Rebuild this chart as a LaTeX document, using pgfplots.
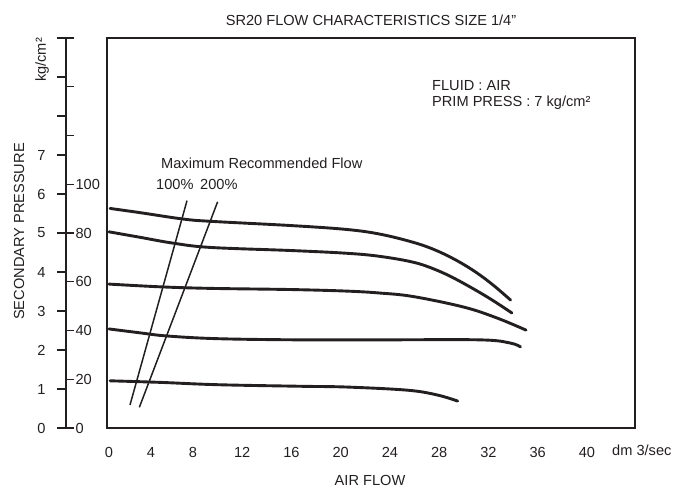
\documentclass[border=0pt]{standalone}
\usepackage{pgfplots}
\pgfplotsset{compat=1.18}
\usepackage{fontspec}
\setmainfont{Liberation Sans}
\definecolor{ink}{RGB}{35,31,32}
\newcommand\fs{\fontsize{14.6}{17.5}\selectfont}
\begin{document}
\begin{tikzpicture}
% main plot box
\begin{axis}[
  at={(0pt,0pt)}, anchor=south west,
  scale only axis, width=528pt, height=390pt,
  x coord trafo/.code={\pgfmathparse{(#1)<=8 ? 10.5*(#1) : 84+12.31*((#1)-8)}},
  x coord inv trafo/.code={\pgfmathparse{(#1)<=84 ? (#1)/10.5 : 8+((#1)-84)/12.31}},
  xmin=-0.19, xmax=43.905, ymin=0, ymax=10,
  xtick={0,4,8,12,16,20,24,28,32,36,40},
  xticklabels={0,4,8,12,16,20,24,28,32,36,40},
  ytick=\empty,
  major tick length=0pt,
  axis line style={ink, line width=1.2pt},
  xticklabel style={font=\fs, text=ink, anchor=center, yshift=-24pt},
  clip=false,
]
\addplot[ink, line width=2.9pt, smooth, tension=0.6, line cap=round] coordinates {
 (0.1,5.63) (3,5.52) (7,5.36) (9.4,5.30) (16,5.19) (20.5,5.09) (23.2,4.97) (25.9,4.76) (27.7,4.56) (29.45,4.29) (31.0,3.99) (32.4,3.66) (33.8,3.28)};
\addplot[ink, line width=2.9pt, smooth, tension=0.6, line cap=round] coordinates {
 (0,5.03) (2.95,4.89) (6.1,4.74) (9.4,4.63) (16,4.55) (20.5,4.48) (23.2,4.40) (25.9,4.25) (27.7,4.06) (29.45,3.80) (31.9,3.36) (33.9,2.95)};
\addplot[ink, line width=2.9pt, smooth, tension=0.6, line cap=round] coordinates {
 (0,3.69) (4.86,3.62) (9.4,3.58) (16,3.55) (20.5,3.51) (23.2,3.46) (25.9,3.37) (30.0,3.10) (32.7,2.82) (35.05,2.51)};
\addplot[ink, line width=2.9pt, smooth, tension=0.6, line cap=round] coordinates {
 (0,2.54) (2.95,2.44) (5.5,2.36) (10,2.29) (16.7,2.26) (23.2,2.26) (31.3,2.26) (33.75,2.18) (34.6,2.08)};
\addplot[ink, line width=2.9pt, smooth, tension=0.6, line cap=round] coordinates {
 (0.1,1.21) (4.86,1.17) (10,1.11) (16.7,1.07) (20.5,1.05) (25.4,0.97) (27.8,0.85) (29.5,0.69)};
% maximum recommended flow lines
\addplot[ink, line width=1.5pt] coordinates {(2.0,0.59) (7.43,5.83)};
\addplot[ink, line width=1.5pt] coordinates {(2.89,0.53) (8,4.14) (10,5.80)};
\end{axis}
% kg/cm2 scale
\begin{axis}[
  at={(-41pt,0pt)}, anchor=south west,
  scale only axis, width=1pt, height=390pt,
  xmin=0, xmax=1, ymin=0, ymax=10,
  hide x axis, axis y line*=left,
  ytick={0,1,...,10},
  yticklabels={0,1,2,3,4,5,6,7,{},{},{}},
  tick align=outside, major tick length=9pt,
  axis line style={ink, line width=1.2pt},
  tick style={ink, line width=1.2pt},
  yticklabel style={font=\fs, text=ink, xshift=-8pt},
]
\end{axis}
% psi scale
\begin{axis}[
  at={(-41pt,0pt)}, anchor=south west,
  scale only axis, width=1pt, height=390pt,
  xmin=0, xmax=1, ymin=0, ymax=160,
  hide x axis, axis y line*=left,
  ytick={0,20,...,160},
  yticklabels={0,20,40,60,80,100,{},{},{}},
  tick align=inside, major tick length=8pt,
  axis line style={ink, line width=1.2pt},
  tick style={ink, line width=1.2pt},
  yticklabel style={font=\fs, text=ink, anchor=west, xshift=6pt},
]
\end{axis}
% texts
\node[font=\fs, text=ink, inner sep=0pt] at (264pt,408pt) {SR20 FLOW CHARACTERISTICS SIZE 1/4"};
\node[font=\fs, text=ink, inner sep=0pt, anchor=west] at (325pt,342pt) {FLUID : AIR};
\node[font=\fs, text=ink, inner sep=0pt, anchor=west] at (325pt,325.5pt) {PRIM PRESS : 7 kg/cm²};
\node[font=\fs, text=ink, inner sep=0pt, anchor=west] at (54pt,265pt) {Maximum Recommended Flow};
\node[font=\fs, text=ink, inner sep=0pt, anchor=west] at (49pt,244pt) {100\%};
\node[font=\fs, text=ink, inner sep=0pt, anchor=west] at (93pt,244pt) {200\%};
\node[font=\fs, text=ink, inner sep=0pt, anchor=west] at (505pt,-22pt) {dm 3/sec};
\node[font=\fs, text=ink, inner sep=0pt] at (263pt,-52pt) {AIR FLOW};
\node[font=\fs, text=ink, inner sep=0pt, rotate=90] at (-65pt,368pt) {kg/cm²};
\node[font=\fs, text=ink, inner sep=0pt, rotate=90] at (-88pt,196.5pt) {SECONDARY PRESSURE};
\path (-107pt,-61pt) rectangle (569pt,428pt);
\end{tikzpicture}
\end{document}
